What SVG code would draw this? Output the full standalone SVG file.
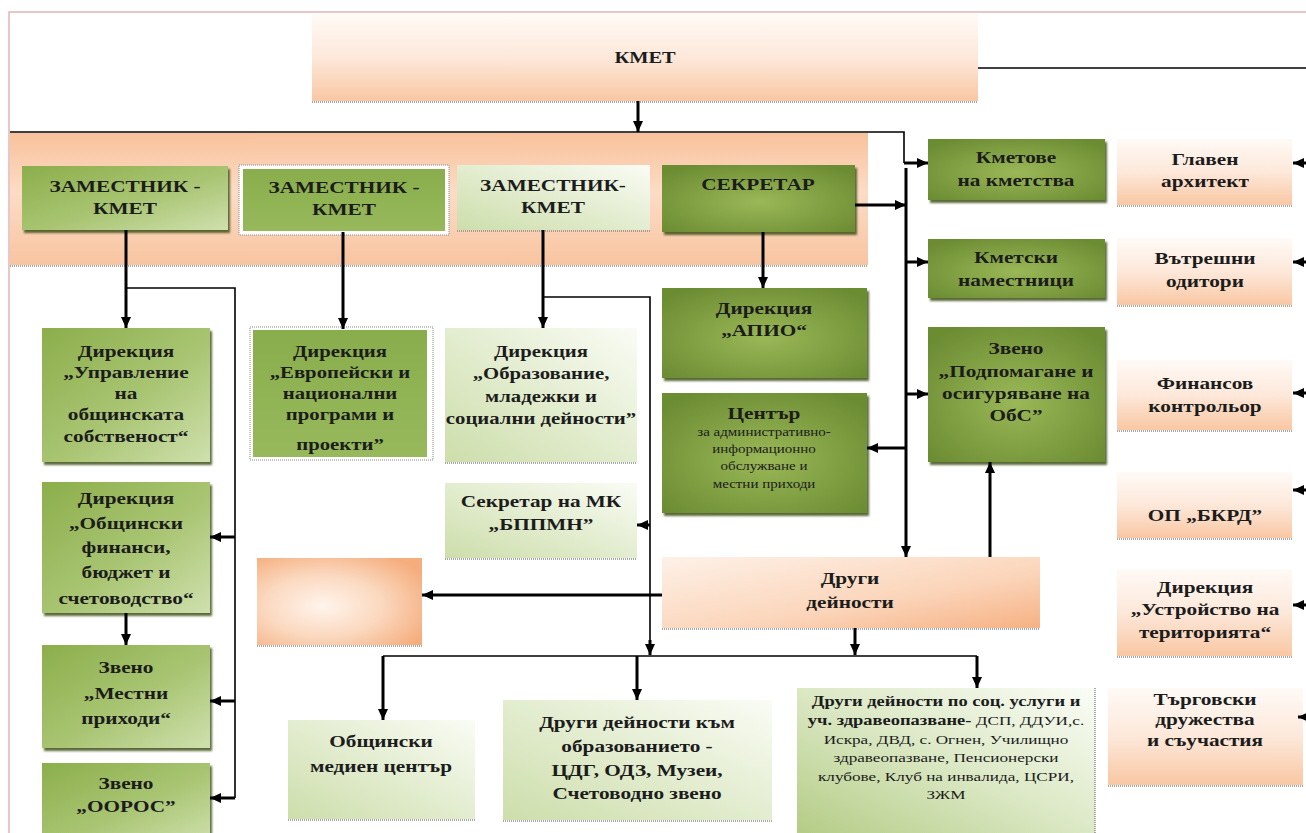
<svg xmlns="http://www.w3.org/2000/svg" width="1306" height="833" viewBox="0 0 1306 833">
<style>
.t{font-family:"Liberation Serif","Times New Roman",serif;font-weight:bold;font-size:17px;fill:#1c1c1c;text-anchor:middle}
.s{font-weight:normal;font-size:12px}
.m{font-size:14px}
.n{font-weight:normal;font-size:13px}
.conn path{fill:none;stroke:#000}
.thick{stroke-width:3}
.thin{stroke-width:1.6}
.a{marker-end:url(#ah)}
.dot{stroke:#8a8a8a;stroke-width:1.5;stroke-dasharray:1 1;fill:none}
.sh{filter:url(#shadow)}
</style>
<defs>
<marker id="ah" markerUnits="userSpaceOnUse" markerWidth="11" markerHeight="10" refX="11" refY="5" orient="auto" viewBox="0 0 11 10"><path d="M0,0 L11,5 L0,10 z" fill="#000"/></marker>
<filter id="shadow" x="-5%" y="-5%" width="115%" height="120%"><feDropShadow dx="2" dy="3" stdDeviation="0.8" flood-color="#3f5019" flood-opacity="0.85"/></filter>
<linearGradient id="gPeach" x1="0" y1="0" x2="0" y2="1"><stop offset="0" stop-color="#fffaf6"/><stop offset="0.5" stop-color="#fde8da"/><stop offset="1" stop-color="#f9c7a3"/></linearGradient>
<linearGradient id="gBand" x1="0" y1="0" x2="0" y2="1"><stop offset="0" stop-color="#f8c29b"/><stop offset="0.45" stop-color="#fcdcc6"/><stop offset="1" stop-color="#f8c4a0"/></linearGradient>
<linearGradient id="gPeachD" x1="0" y1="0" x2="1" y2="1"><stop offset="0" stop-color="#fef1e8"/><stop offset="0.6" stop-color="#fbd5ba"/><stop offset="1" stop-color="#f6b183"/></linearGradient>
<radialGradient id="gEmpty" cx="0.4" cy="0.55" r="0.7"><stop offset="0" stop-color="#fff4ec"/><stop offset="0.5" stop-color="#fbd9c0"/><stop offset="1" stop-color="#f5ad7d"/></radialGradient>
<linearGradient id="gGreen" x1="0" y1="0" x2="1" y2="1"><stop offset="0" stop-color="#8cae4b"/><stop offset="0.55" stop-color="#a9c573"/><stop offset="1" stop-color="#cfe0ae"/></linearGradient>
<radialGradient id="gDark" cx="0.5" cy="0.55" r="0.65"><stop offset="0" stop-color="#9ab857"/><stop offset="1" stop-color="#6c8c33"/></radialGradient>
<linearGradient id="gMid" x1="0" y1="0" x2="0" y2="1"><stop offset="0" stop-color="#89ad4c"/><stop offset="1" stop-color="#97b95c"/></linearGradient>
<linearGradient id="gPale" x1="0" y1="1" x2="1" y2="0"><stop offset="0" stop-color="#cddeab"/><stop offset="0.55" stop-color="#e5eed3"/><stop offset="1" stop-color="#fafcf5"/></linearGradient>
<linearGradient id="gPale2" x1="0" y1="1" x2="1" y2="0"><stop offset="0" stop-color="#b3cb84"/><stop offset="0.5" stop-color="#dbe8c4"/><stop offset="1" stop-color="#fbfdf7"/></linearGradient>
</defs>
<rect width="1306" height="833" fill="#fff"/>
<rect x="9" y="12" width="1400" height="900" fill="none" stroke="#e3b4b4" stroke-width="1.5"/>

<g id="band"><rect x="10" y="133" width="858" height="132" fill="url(#gBand)"/><line class="dot" x1="10" y1="266" x2="868" y2="266"/></g>

<g id="kmet"><rect x="312" y="14" width="666" height="87" fill="url(#gPeach)"/><line class="dot" x1="312" y1="102" x2="978" y2="102"/>
<g transform="translate(645 0) scale(1.2 1)"><text class="t" x="0" y="63" font-size="18">КМЕТ</text></g></g>

<g id="zam1"><rect class="sh" x="22" y="166" width="206" height="64" fill="url(#gGreen)"/>
<g transform="translate(125 0) scale(1.25 1)"><text class="t" x="0" y="192">ЗАМЕСТНИК -</text><text class="t" x="0" y="214">КМЕТ</text></g></g>

<g id="zam2"><rect x="239" y="165" width="210" height="70" fill="#fff" stroke="#888" stroke-width="1" stroke-dasharray="1 1"/><rect x="243" y="169" width="202" height="62" fill="url(#gMid)"/>
<g transform="translate(344 0) scale(1.25 1)"><text class="t" x="0" y="193">ЗАМЕСТНИК -</text><text class="t" x="0" y="215">КМЕТ</text></g></g>

<g id="zam3"><rect x="457" y="165" width="193" height="65" fill="url(#gPale)"/><line class="dot" x1="457" y1="231" x2="650" y2="231"/>
<g transform="translate(553 0) scale(1.25 1)"><text class="t" x="0" y="191">ЗАМЕСТНИК-</text><text class="t" x="0" y="213">КМЕТ</text></g></g>

<g id="sekretar"><rect class="sh" x="662" y="165" width="193" height="67" fill="url(#gDark)"/>
<g transform="translate(758 0) scale(1.25 1)"><text class="t" x="0" y="190">СЕКРЕТАР</text></g></g>

<g id="kmetove"><rect class="sh" x="928" y="139" width="177" height="61" fill="url(#gDark)"/>
<g transform="translate(1016 0) scale(1.25 1)"><text class="t" x="0" y="163">Кметове</text><text class="t" x="0" y="186">на кметства</text></g></g>

<g id="kmetski"><rect class="sh" x="928" y="239" width="177" height="59" fill="url(#gDark)"/>
<g transform="translate(1016 0) scale(1.25 1)"><text class="t" x="0" y="263">Кметски</text><text class="t" x="0" y="286">наместници</text></g></g>

<g id="zveno-obs"><rect class="sh" x="928" y="327" width="177" height="135" fill="url(#gDark)"/>
<g transform="translate(1016 0) scale(1.25 1)"><text class="t" x="0" y="354">Звено</text><text class="t" x="0" y="377">„Подпомагане и</text><text class="t" x="0" y="399">осигуряване на</text><text class="t" x="0" y="421">ОбС”</text></g></g>

<g id="glaven"><rect x="1117" y="139" width="175" height="66" fill="url(#gPeach)"/><line class="dot" x1="1117" y1="206" x2="1292" y2="206"/>
<g transform="translate(1205 0) scale(1.25 1)"><text class="t" x="0" y="165">Главен</text><text class="t" x="0" y="187">архитект</text></g></g>

<g id="vatreshni"><rect x="1117" y="238" width="175" height="67" fill="url(#gPeach)"/><line class="dot" x1="1117" y1="306" x2="1292" y2="306"/>
<g transform="translate(1205 0) scale(1.25 1)"><text class="t" x="0" y="264">Вътрешни</text><text class="t" x="0" y="287">одитори</text></g></g>

<g id="finansov"><rect x="1117" y="360" width="175" height="70" fill="url(#gPeach)"/><line class="dot" x1="1117" y1="431" x2="1292" y2="431"/>
<g transform="translate(1205 0) scale(1.25 1)"><text class="t" x="0" y="389">Финансов</text><text class="t" x="0" y="412">контрольор</text></g></g>

<g id="op-bkrd"><rect x="1117" y="472" width="175" height="66" fill="url(#gPeach)"/><line class="dot" x1="1117" y1="539" x2="1292" y2="539"/>
<g transform="translate(1205 0) scale(1.25 1)"><text class="t" x="0" y="521">ОП „БКРД”</text></g></g>

<g id="ustroistvo"><rect x="1117" y="569" width="175" height="87" fill="url(#gPeach)"/><line class="dot" x1="1117" y1="657" x2="1292" y2="657"/>
<g transform="translate(1205 0) scale(1.25 1)"><text class="t" x="0" y="593">Дирекция</text><text class="t" x="0" y="615">„Устройство на</text><text class="t" x="0" y="638">територията“</text></g></g>

<g id="targovski"><rect x="1108" y="688" width="195" height="97" fill="url(#gPeach)"/><line class="dot" x1="1108" y1="786" x2="1303" y2="786"/>
<g transform="translate(1205 0) scale(1.25 1)"><text class="t" x="0" y="705">Търговски</text><text class="t" x="0" y="725">дружества</text><text class="t" x="0" y="746">и съучастия</text></g></g>

<g id="upravlenie"><rect class="sh" x="42" y="328" width="168" height="134" fill="url(#gGreen)"/>
<g transform="translate(126 0) scale(1.25 1)"><text class="t" x="0" y="357">Дирекция</text><text class="t" x="0" y="378">„Управление</text><text class="t" x="0" y="399">на</text><text class="t" x="0" y="420">общинската</text><text class="t" x="0" y="442">собственост“</text></g></g>

<g id="evropeiski"><rect x="250" y="327" width="183" height="133" fill="#fff" stroke="#888" stroke-width="1" stroke-dasharray="1 1"/><rect x="253" y="330" width="174" height="127" fill="url(#gMid)"/>
<g transform="translate(340 0) scale(1.22 1)"><text class="t" x="0" y="357">Дирекция</text><text class="t" x="0" y="378">„Европейски и</text><text class="t" x="0" y="399">национални</text><text class="t" x="0" y="420">програми и</text><text class="t" x="0" y="450">проекти”</text></g></g>

<g id="obrazovanie"><rect x="445" y="328" width="192" height="134" fill="url(#gPale)"/><line class="dot" x1="445" y1="463" x2="637" y2="463"/>
<g transform="translate(541 0) scale(1.22 1)"><text class="t" x="0" y="357">Дирекция</text><text class="t" x="0" y="379">„Образование,</text><text class="t" x="0" y="402">младежки и</text><text class="t" x="0" y="424">социални дейности”</text></g></g>

<g id="apio"><rect class="sh" x="662" y="288" width="205" height="90" fill="url(#gDark)"/>
<g transform="translate(764 0) scale(1.25 1)"><text class="t" x="0" y="314">Дирекция</text><text class="t" x="0" y="336">„АПИО“</text></g></g>

<g id="tsentar"><rect class="sh" x="662" y="393" width="205" height="120" fill="url(#gDark)"/>
<g transform="translate(764 0) scale(1.25 1)"><text class="t" x="0" y="419" font-size="18">Център</text><text class="t s" x="0" y="436">за административно-</text><text class="t s" x="0" y="453">информационно</text><text class="t s" x="0" y="470">обслужване  и</text><text class="t s" x="0" y="488">местни приходи</text></g></g>

<g id="sekretar-mk"><rect x="445" y="483" width="192" height="75" fill="url(#gPale)"/><line class="dot" x1="445" y1="559" x2="637" y2="559"/>
<g transform="translate(541 0) scale(1.25 1)"><text class="t" x="0" y="507">Секретар на МК</text><text class="t" x="0" y="530">„БППМН”</text></g></g>

<g id="finansi"><rect class="sh" x="42" y="482" width="168" height="131" fill="url(#gGreen)"/>
<g transform="translate(126 0) scale(1.25 1)"><text class="t" x="0" y="504">Дирекция</text><text class="t" x="0" y="529">„Общински</text><text class="t" x="0" y="553">финанси,</text><text class="t" x="0" y="578">бюджет и</text><text class="t" x="0" y="604">счетоводство“</text></g></g>

<g id="mestni"><rect class="sh" x="42" y="645" width="168" height="103" fill="url(#gGreen)"/>
<g transform="translate(126 0) scale(1.25 1)"><text class="t" x="0" y="673">Звено</text><text class="t" x="0" y="699">„Местни</text><text class="t" x="0" y="724">приходи“</text></g></g>

<g id="ooros"><rect class="sh" x="42" y="763" width="168" height="80" fill="url(#gGreen)"/>
<g transform="translate(126 0) scale(1.25 1)"><text class="t" x="0" y="789">Звено</text><text class="t" x="0" y="812">„ООРОС”</text></g></g>

<g id="empty-box"><rect x="257" y="558" width="165" height="87" fill="url(#gEmpty)"/><line class="dot" x1="257" y1="646" x2="422" y2="646"/></g>

<g id="drugi"><rect x="662" y="557" width="378" height="71" fill="url(#gPeachD)"/><line class="dot" x1="662" y1="629" x2="1040" y2="629"/>
<g transform="translate(850 0) scale(1.25 1)"><text class="t" x="0" y="584">Други</text><text class="t" x="0" y="608">дейности</text></g></g>

<g id="mediacentar"><rect x="288" y="720" width="187" height="99" fill="url(#gPale)"/><line class="dot" x1="288" y1="820" x2="475" y2="820"/>
<g transform="translate(381 0) scale(1.25 1)"><text class="t" x="0" y="747">Общински</text><text class="t" x="0" y="772">медиен център</text></g></g>

<g id="drugi-obr"><rect x="503" y="700" width="269" height="120" fill="url(#gPale)"/><line class="dot" x1="503" y1="821" x2="772" y2="821"/>
<g transform="translate(637 0) scale(1.25 1)"><text class="t" x="0" y="728">Други дейности към</text><text class="t" x="0" y="752">образованието -</text><text class="t" x="0" y="776">ЦДГ, ОДЗ, Музеи,</text><text class="t" x="0" y="799">Счетоводно звено</text></g></g>

<g id="drugi-soc"><rect x="797" y="688" width="298" height="150" fill="url(#gPale2)"/><line class="dot" x1="1095" y1="688" x2="1095" y2="833"/>
<g transform="translate(946 0) scale(1.32 1)"><text class="t m" x="0" y="706">Други дейности по соц. услуги и</text><text class="t m" x="0" y="725">уч. здравеопазване-<tspan class="n"> ДСП, ДДУИ,с.</tspan></text><text class="t n" x="0" y="744">Искра, ДВД, с. Огнен, Училищно</text><text class="t n" x="0" y="762">здравеопазване, Пенсионерски</text><text class="t n" x="0" y="781">клубове, Клуб на инвалида, ЦСРИ,</text><text class="t n" x="0" y="799">ЗЖМ</text></g></g>

<g id="connectors" class="conn">
<path class="thin" d="M978,68 H1306"/>
<path class="thick a" d="M638,101 V132"/>
<path class="thin" d="M10,132 H904 V163"/>
<path class="thick a" d="M904,163 H928"/>
<path class="thick a" d="M855,205 H906"/>
<path class="thick a" d="M906,168 V557"/>
<path class="thick a" d="M906,262 H928"/>
<path class="thick a" d="M906,394 H928"/>
<path class="thick a" d="M906,448 H867"/>
<path class="thick a" d="M990,557 V462"/>
<path class="thick a" d="M1306,163 H1293"/>
<path class="thick a" d="M1306,262 H1293"/>
<path class="thick a" d="M1306,393 H1293"/>
<path class="thick a" d="M1306,490 H1293"/>
<path class="thick a" d="M1306,605 H1293"/>
<path class="thick a" d="M1309,717 H1298"/>
<path class="thick a" d="M126,230 V328"/>
<path class="thin" d="M126,288 H235 V798"/>
<path class="thick a" d="M235,537 H210"/>
<path class="thick a" d="M235,701 H210"/>
<path class="thick a" d="M235,798 H210"/>
<path class="thick a" d="M126,613 V645"/>
<path class="thick a" d="M343,232 V329"/>
<path class="thick a" d="M543,230 V328"/>
<path class="thin" d="M543,297 H650 V640"/>
<path class="thick a" d="M650,640 V655"/>
<path class="thick a" d="M650,525 H637"/>
<path class="thick a" d="M763,232 V288"/>
<path class="thick a" d="M662,595 H422"/>
<path class="thick a" d="M855,628 V655"/>
<path class="thin" d="M383,656 H977"/>
<path class="thick a" d="M383,656 V720"/>
<path class="thick a" d="M637,656 V700"/>
<path class="thick a" d="M977,656 V688"/>
</g>
</svg>
